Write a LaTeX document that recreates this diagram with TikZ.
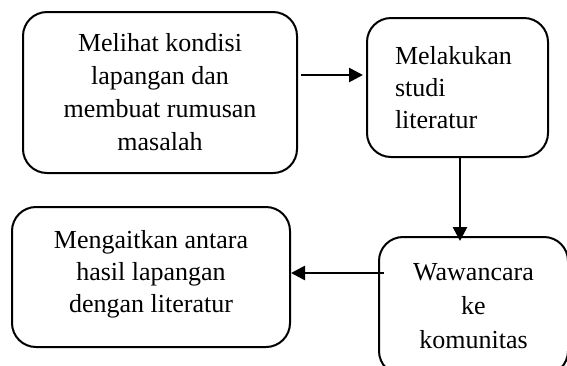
\documentclass[tikz,border=0pt]{standalone}
\usepackage{fontspec}
\setmainfont{Liberation Serif}
\usetikzlibrary{arrows.meta}
\begin{document}
\begin{tikzpicture}[x=1pt,y=-1pt,
  boxstyle/.style={draw=black, line width=2pt, rounded corners=24pt, inner sep=0pt,
    font=\fontsize{26}{32}\selectfont, align=center},
  arr/.style={line width=2.6pt, -{Triangle[length=14pt,width=14pt]}}]
\useasboundingbox (0,0) rectangle (567,365);
\clip (0,0) rectangle (567,365);
\node[boxstyle, minimum width=274pt, minimum height=161pt, font=\fontsize{26}{33}\selectfont] (b1) at (160,92.5)
  {Melihat kondisi\\lapangan dan\\membuat rumusan\\masalah};
\node[boxstyle, minimum height=139pt, text width=125pt, inner xsep=28pt, align=left] (b2) at (457.5,87.5)
  {Melakukan\\studi\\literatur};
\node[boxstyle, minimum width=189pt, minimum height=138pt, font=\fontsize{26}{34}\selectfont] (b3) at (473.5,306)
  {Wawancara\\ke\\komunitas};
\node[boxstyle, minimum width=278pt, minimum height=140pt] (b4) at (151,277)
  {Mengaitkan antara\\hasil lapangan\\dengan literatur\\[-20pt]\mbox{}};
\coordinate (h1) at (0,75);
\coordinate (v1) at (460,0);
\coordinate (h2) at (0,273);
\draw[arr] ([xshift=3pt]b1.east |- h1) -- ([xshift=-3pt]b2.west |- h1);
\draw[arr] (b2.south -| v1) -- ([yshift=-5pt]b3.north -| v1);
\draw[arr] ([xshift=6pt]b3.west |- h2) -- (b4.east |- h2);
\end{tikzpicture}
\end{document}
